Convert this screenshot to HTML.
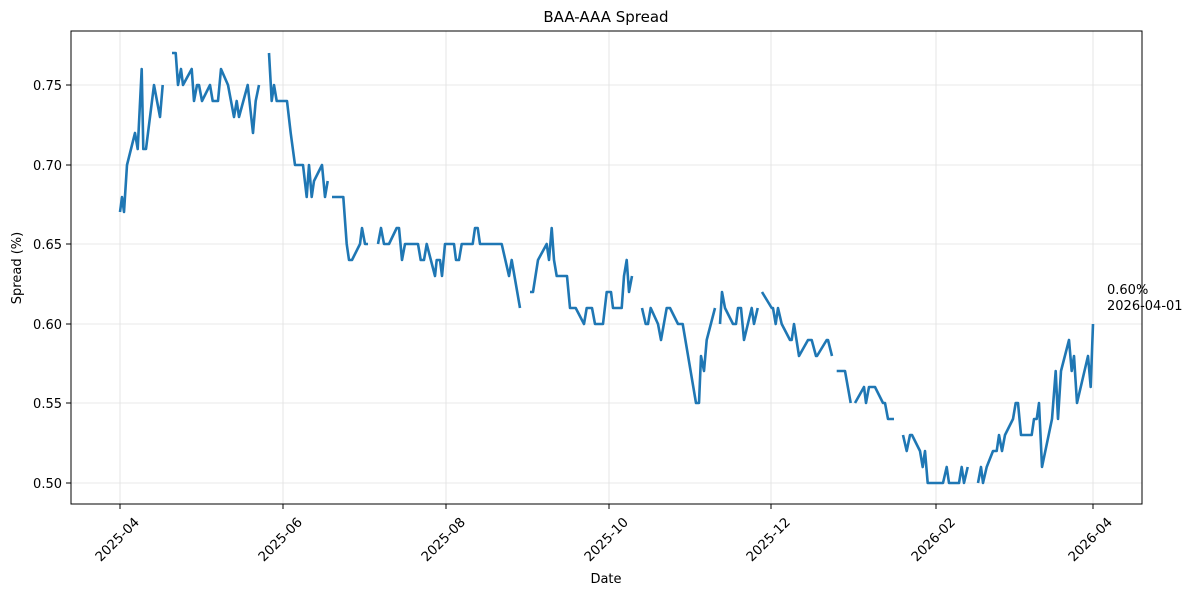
<!DOCTYPE html>
<html><head><meta charset="utf-8"><style>html,body{margin:0;padding:0;background:#fff}svg{display:block}text{font-family:"DejaVu Sans","Liberation Sans",sans-serif;fill:#000}</style></head>
<body>
<svg width="1199" height="596" viewBox="0 0 1199 596" xmlns="http://www.w3.org/2000/svg">
<rect width="1199" height="596" fill="#fff"/>
<g stroke="#e0e0e0" stroke-width="0.8">
<line x1="71" x2="1142" y1="85" y2="85"/><line x1="71" x2="1142" y1="165" y2="165"/><line x1="71" x2="1142" y1="244" y2="244"/><line x1="71" x2="1142" y1="324" y2="324"/><line x1="71" x2="1142" y1="403" y2="403"/><line x1="71" x2="1142" y1="483" y2="483"/>
<line y1="31" y2="504" x1="120" x2="120"/><line y1="31" y2="504" x1="283" x2="283"/><line y1="31" y2="504" x1="446" x2="446"/><line y1="31" y2="504" x1="609" x2="609"/><line y1="31" y2="504" x1="771" x2="771"/><line y1="31" y2="504" x1="936" x2="936"/><line y1="31" y2="504" x1="1093" x2="1093"/>
</g>
<g fill="none" stroke="#1f77b4" stroke-width="2.6" stroke-linejoin="round">
<polyline points="120,212 122,197 124,212 127,165 135,133 137.7,149 141.7,69 143.3,149 146,149 154,85 160,117 162.7,85"/>
<polyline points="172,53 175.7,53 178,85 181,69 183,85 191.7,69 194,101 197,85 199,85 202,101 210,85 212.7,101 218,101 221,69 228,85 234,117 236.7,101 239,117 247.7,85 253,133 255.7,101 259,85"/>
<polyline points="269,53 271.7,101 274,85 276.7,101 287,101 290.7,133 295,165 303,165 306.7,197 309,165 311.7,197 314,181 322,165 325,197 327.7,181"/>
<polyline points="332,197 343.3,197 346.7,244 349,260 352,260 360,244 362,228 365,244 368,244"/>
<polyline points="378,244 381,228 384,244 389,244 396.7,228 399,228 402,260 405,244 418,244 420.7,260 424,260 426.7,244 435,276 436.7,260 440,260 442,276 445,244 454,244 456,260 459,260 461.7,244 472.7,244 475,228 477.7,228 480,244 501.7,244 509,276 511.7,260 520,308"/>
<polyline points="530,292 533,292 538,260 546.7,244 549,260 551.7,228 554,260 556.7,276 567,276 570,308 575.7,308 584,324 586.7,308 592,308 595,324 603,324 606.7,292 611,292 613,308 621.7,308 624,276 626.7,260 629,292 632,276"/>
<polyline points="642,308 645.7,324 648,324 650.7,308 658,324 661,340 666.7,308 670,308 678,324 682.7,324 696,403 699,403 701,356 704,371 706.7,340 715,308"/>
<polyline points="720,324 722,292 725,308 733,324 736,324 738,308 741,308 744,340 751.7,308 754,324 757.7,308"/>
<polyline points="762,292 771.7,308 773,308 775.7,324 778,308 781.7,324 790,340 791.7,340 794,324 799,356 808,340 811.7,340 816,356 817,356 826.7,340 828,340 832,356"/>
<polyline points="836.7,371 845,371 850.7,403"/>
<polyline points="855,403 864,387 866,403 869,387 875,387 883,403 885,403 888,419 894,419"/>
<polyline points="903,435 906.7,451 910,435 912,435 920,451 922.7,467 925,451 927.7,483 943,483 946.7,467 949,483 959,483 961.7,467 964,483 967.7,467"/>
<polyline points="978,483 981,467 983,483 986.7,467 993,451 996.7,451 999,435 1002,451 1005,435 1013,419 1015.7,403 1018,403 1021,435 1031.7,435 1034,419 1036.7,419 1039,403 1042,467 1052,419 1055.7,371 1058,419 1061,371 1069,340 1071.7,371 1074,356 1077,403 1088,356 1090.7,387 1093,324"/>
</g>
<rect x="71" y="31" width="1071" height="473" fill="none" stroke="#000" stroke-width="1"/>
<g stroke="#000" stroke-width="1">
<line x1="71" x2="66" y1="85" y2="85"/><line x1="71" x2="66" y1="165" y2="165"/><line x1="71" x2="66" y1="244" y2="244"/><line x1="71" x2="66" y1="324" y2="324"/><line x1="71" x2="66" y1="403" y2="403"/><line x1="71" x2="66" y1="483" y2="483"/>
<line y1="504" y2="509" x1="120" x2="120"/><line y1="504" y2="509" x1="283" x2="283"/><line y1="504" y2="509" x1="446" x2="446"/><line y1="504" y2="509" x1="609" x2="609"/><line y1="504" y2="509" x1="771" x2="771"/><line y1="504" y2="509" x1="936" x2="936"/><line y1="504" y2="509" x1="1093" x2="1093"/>
</g>
<g font-size="13" text-anchor="end">
<text x="62" y="90">0.75</text><text x="62" y="170">0.70</text><text x="62" y="249">0.65</text><text x="62" y="329">0.60</text><text x="62" y="408">0.55</text><text x="62" y="488">0.50</text>
</g>
<g font-size="13.3" text-anchor="end">
<text transform="translate(140,523) rotate(-45)">2025-04</text>
<text transform="translate(303,523) rotate(-45)">2025-06</text>
<text transform="translate(466,523) rotate(-45)">2025-08</text>
<text transform="translate(629,523) rotate(-45)">2025-10</text>
<text transform="translate(791,523) rotate(-45)">2025-12</text>
<text transform="translate(956,523) rotate(-45)">2026-02</text>
<text transform="translate(1113,523) rotate(-45)">2026-04</text>
</g>
<text x="606" y="22" font-size="15" text-anchor="middle">BAA-AAA Spread</text>
<text x="606" y="583" font-size="13" text-anchor="middle">Date</text>
<text transform="translate(21,268) rotate(-90)" font-size="13" text-anchor="middle">Spread (%)</text>
<text x="1107" y="294" font-size="13">0.60%</text>
<text x="1107" y="310" font-size="13">2026-04-01</text>
</svg>
</body></html>
